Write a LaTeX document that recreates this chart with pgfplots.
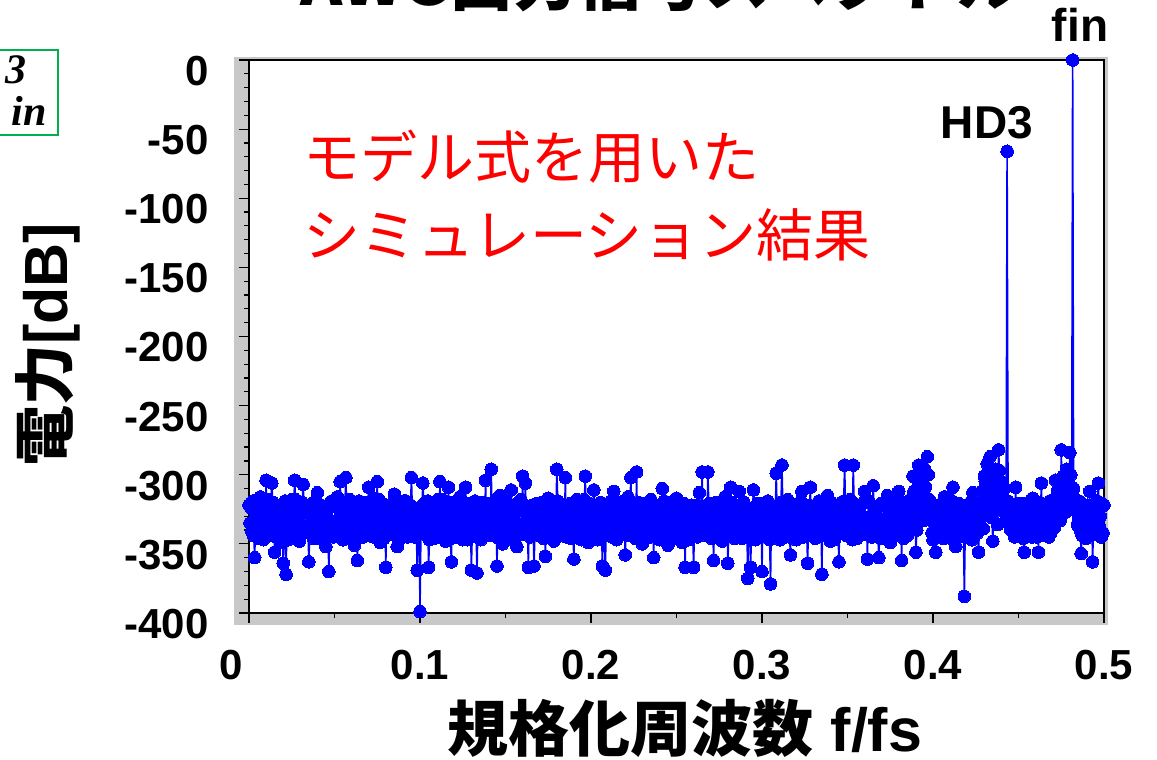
\documentclass[border=0pt]{standalone}
\usepackage{fontspec}
\setmainfont{Liberation Sans}
\newfontfamily\cjk{Noto Sans CJK JP}
\newfontfamily\serifbi{Liberation Serif}
\usepackage{pgfplots}
\pgfplotsset{compat=1.18}
\usepackage{pgfplotstable}
\definecolor{framegray}{RGB}{200,200,200}
\definecolor{boxgreen}{RGB}{0,176,80}

% FFT bins, f/fs = k/1800, power in dB
\pgfplotstableread[row sep=\\]{
y\\
-322\\-335\\-324\\ -341\\-319\\-344\\ -360\\-331\\-340\\ -329\\-346\\-321\\ -316\\-338\\-327\\
-347\\-323\\-342\\ -304\\-330\\-318\\ -335\\-344\\-326\\ -306\\-320\\-337\\ -356\\-333\\-345\\
-327\\-341\\-322\\ -349\\-328\\-336\\ -364\\-345\\-319\\ -372\\-332\\-347\\ -331\\-321\\-339\\
-318\\-343\\-326\\ -304\\-318\\-334\\ -343\\-329\\-348\\ -325\\-337\\-320\\ -307\\-325\\-342\\
-340\\-327\\-338\\ -363\\-342\\-324\\ -321\\-333\\-346\\ -336\\-319\\-330\\ -313\\-339\\-327\\
-346\\-322\\-344\\ -328\\-347\\-331\\ -352\\-326\\-335\\ -370\\-340\\-321\\ -319\\-336\\-345\\
-334\\-321\\-343\\ -316\\-338\\-325\\ -305\\-329\\-341\\ -347\\-345\\-320\\ -302\\-332\\-337\\
-324\\-318\\-346\\ -339\\-341\\-328\\ -351\\-324\\-335\\ -362\\-346\\-319\\ -327\\-330\\-339\\
-345\\-326\\-340\\ -320\\-343\\-322\\ -309\\-320\\-333\\ -338\\-337\\-345\\ -317\\-324\\-329\\
-305\\-340\\-318\\ -349\\-331\\-344\\ -331\\-346\\-325\\ -367\\-322\\-338\\ -323\\-335\\-342\\
-341\\-329\\-320\\ -314\\-344\\-336\\ -352\\-323\\-347\\ -328\\-338\\-326\\ -345\\-319\\-341\\
-319\\-333\\-345\\ -336\\-342\\-322\\ -302\\-327\\-339\\ -335\\-345\\-331\\ -369\\-336\\-324\\
-399\\-340\\-325\\ -306\\-321\\-343\\ -338\\-334\\-319\\ -367\\-347\\-330\\ -322\\-325\\-338\\
-346\\-339\\-322\\ -329\\-318\\-344\\ -305\\-331\\-336\\ -318\\-344\\-327\\ -348\\-323\\-341\\
-309\\-337\\-346\\ -363\\-320\\-332\\ -327\\-345\\-324\\ -340\\-328\\-340\\ -316\\-341\\-319\\
-347\\-324\\-335\\ -309\\-339\\-347\\ -331\\-330\\-321\\ -369\\-343\\-333\\ -324\\-319\\-338\\
-371\\-334\\-326\\ -336\\-347\\-320\\ -320\\-325\\-341\\ -304\\-338\\-329\\ -342\\-321\\-344\\
-296\\-342\\-331\\ -329\\-329\\-318\\ -366\\-336\\-346\\ -315\\-323\\-339\\ -350\\-345\\-327\\
-333\\-320\\-340\\ -345\\-339\\-328\\ -311\\-331\\-347\\ -326\\-344\\-322\\ -352\\-326\\-336\\
-319\\-318\\-343\\ -301\\-337\\-325\\ -306\\-341\\-330\\ -367\\-328\\-345\\ -338\\-322\\-334\\
-366\\-343\\-331\\ -321\\-327\\-339\\ -344\\-336\\-320\\ -330\\-346\\-328\\ -359\\-322\\-341\\
-317\\-338\\-345\\ -337\\-329\\-319\\ -348\\-340\\-334\\ -296\\-319\\-343\\ -325\\-332\\-326\\
-341\\-324\\-337\\ -302\\-345\\-329\\ -328\\-331\\-321\\ -346\\-339\\-344\\ -361\\-320\\-333\\
-318\\-342\\-326\\ -334\\-328\\-347\\ -322\\-335\\-318\\ -301\\-344\\-330\\ -349\\-321\\-339\\
-330\\-338\\-323\\ -311\\-326\\-346\\ -343\\-347\\-331\\ -325\\-320\\-337\\ -366\\-334\\-342\\
-369\\-341\\-327\\ -336\\-323\\-340\\ -319\\-345\\-329\\ -312\\-330\\-319\\ -347\\-337\\-344\\
-323\\-342\\-328\\ -340\\-319\\-335\\ -358\\-336\\-344\\ -316\\-327\\-321\\ -302\\-340\\-332\\
-345\\-325\\-346\\ -298\\-343\\-320\\ -331\\-333\\-339\\ -350\\-321\\-347\\ -326\\-338\\-326\\
-339\\-329\\-345\\ -318\\-344\\-324\\ -360\\-322\\-338\\ -333\\-339\\-330\\ -347\\-327\\-343\\
-310\\-345\\-319\\ -324\\-334\\-341\\ -351\\-320\\-328\\ -321\\-341\\-335\\ -342\\-326\\-346\\
-317\\-343\\-330\\ -336\\-325\\-340\\ -349\\-338\\-321\\ -367\\-331\\-346\\ -328\\-347\\-326\\
-344\\-322\\-337\\ -367\\-336\\-344\\ -322\\-345\\-329\\ -313\\-328\\-339\\ -298\\-341\\-323\\
-326\\-335\\-344\\ -298\\-321\\-331\\ -341\\-346\\-327\\ -362\\-330\\-340\\ -320\\-339\\-322\\
-337\\-324\\-347\\ -348\\-342\\-333\\ -316\\-327\\-319\\ -364\\-344\\-336\\ -309\\-320\\-341\\
-335\\-346\\-328\\ -324\\-331\\-340\\ -312\\-323\\-345\\ -346\\-338\\-320\\ -329\\-343\\-334\\
-375\\-327\\-339\\ -367\\-340\\-325\\ -311\\-333\\-347\\ -340\\-321\\-337\\ -321\\-345\\-329\\
-370\\-328\\-341\\ -333\\-344\\-323\\ -319\\-336\\-347\\ -379\\-322\\-332\\ -342\\-339\\-326\\
-299\\-331\\-343\\ -327\\-347\\-320\\ -293\\-325\\-338\\ -345\\-340\\-330\\ -318\\-334\\-345\\
-358\\-321\\-336\\ -331\\-343\\-327\\ -347\\-329\\-345\\ -322\\-338\\-319\\ -312\\-345\\-332\\
-338\\-324\\-340\\ -364\\-336\\-322\\ -309\\-342\\-329\\ -343\\-327\\-346\\ -325\\-339\\-333\\
-319\\-344\\-330\\ -372\\-326\\-339\\ -336\\-341\\-321\\ -315\\-333\\-346\\ -348\\-320\\-337\\
-327\\-347\\-328\\ -341\\-331\\-342\\ -363\\-323\\-335\\ -320\\-338\\-319\\ -293\\-327\\-344\\
-330\\-340\\-322\\ -318\\-335\\-347\\ -293\\-321\\-329\\ -345\\-346\\-334\\ -325\\-328\\-341\\
-339\\-337\\-320\\ -312\\-343\\-331\\ -361\\-319\\-338\\ -333\\-332\\-345\\ -308\\-324\\-336\\
-343\\-330\\-345\\ -360\\-338\\-321\\ -322\\-346\\-333\\ -337\\-322\\-340\\ -315\\-339\\-327\\
-349\\-325\\-343\\ -328\\-344\\-320\\ -341\\-329\\-336\\ -312\\-341\\-331\\ -362\\-320\\-346\\
-326\\-337\\-323\\ -344\\-329\\-341\\ -318\\-320\\-334\\ -301\\-312\\-327\\ -356\\-340\\-318\\
-293\\-306\\-325\\ -303\\-315\\-333\\ -296\\-309\\-321\\ -287\\-300\\-318\\ -331\\-328\\-342\\
-347\\-335\\-322\\ -356\\-344\\-330\\ -323\\-327\\-341\\ -338\\-320\\-346\\ -316\\-338\\-328\\
-345\\-331\\-343\\ -329\\-346\\-319\\ -309\\-324\\-337\\ -352\\-339\\-332\\ -321\\-345\\-326\\
-336\\-322\\-340\\ -388\\-335\\-329\\ -327\\-343\\-321\\ -344\\-330\\-347\\ -313\\-338\\-324\\
-333\\-321\\-342\\ -356\\-334\\-327\\ -320\\-312\\-339\\ -301\\-305\\-326\\ -292\\-298\\-318\\
-287\\-310\\-331\\ -348\\-322\\-302\\ -296\\-315\\-336\\ -282\\-297\\-320\\ -305\\-326\\-311\\
-318\\-334\\-322\\ -66\\-319\\-331\\ -326\\-340\\-324\\ -339\\-328\\-345\\ -309\\-332\\-321\\
-335\\-343\\-328\\ -321\\-336\\-346\\ -356\\-322\\-339\\ -330\\-341\\-320\\ -343\\-327\\-345\\
-317\\-339\\-331\\ -338\\-345\\-323\\ -356\\-320\\-337\\ -306\\-333\\-344\\ -325\\-326\\-340\\
-341\\-330\\-345\\ -319\\-342\\-324\\ -335\\-318\\-338\\ -304\\-329\\-312\\ -326\\-309\\-333\\
-282\\-322\\-301\\ -315\\-311\\-327\\ -296\\-305\\-320\\ -284\\-300\\-313\\ 0\\-310\\-322\\
-318\\-326\\-336\\ -331\\-319\\-340\\ -357\\-344\\-328\\ -340\\-331\\-346\\ -324\\-322\\-337\\
-312\\-340\\-325\\ -363\\-335\\-343\\ -335\\-327\\-319\\ -306\\-338\\-330\\ -345\\-321\\-342\\
-322\\
}\noise

\begin{document}
\begin{tikzpicture}
\useasboundingbox (0,0) rectangle (1157pt,760pt);
% gray frame behind the plot area
\fill[framegray] (234pt,135pt) rectangle (1108pt,703pt);
\begin{axis}[
  at={(249pt,147pt)}, anchor=south west,
  scale only axis, width=855pt, height=553pt,
  xmin=0, xmax=0.5, ymin=-400, ymax=0,
  axis background/.style={fill=white},
  axis line style={black, line width=1.6pt},
  xtick={0.1,0.2,0.3,0.4,0.5},
  xticklabels={0.1,0.2,0.3,0.4,0.5},
  extra x ticks={0}, extra x tick labels={0},
  extra x tick style={xticklabel style={xshift=-18pt}},
  minor xtick={0.05,0.15,0.25,0.35,0.45},
  ytick={-400,-350,-300,-250,-200,-150,-100,-50,0},
  yticklabels={-400,-350,-300,-250,-200,-150,-100,-50,0},
  minor y tick num=4,
  xtick pos=bottom, ytick pos=left,
  tick align=outside,
  major tick length=10pt, minor tick length=5pt,
  tick style={black, line width=1.2pt},
  ticklabel style={font=\fontsize{42}{44}\selectfont\bfseries},
  xticklabel style={yshift=-24pt},
  yticklabel style={xshift=-27pt, yshift=-11pt},
  clip=true,
]
\addplot[blue, line width=1.6pt, mark=*, mark size=6.3pt,
  mark options={fill=blue, draw=blue, line width=0pt}]
  table[x expr=\coordindex/1800, y=y] {\noise};
\end{axis}
% title (cropped at top)
\node[anchor=base] at (661pt,754pt) {\fontsize{64}{64}\selectfont\bfseries\cjk AWG出力信号スペクトル};
% axis labels
\node[rotate=90] at (48pt,415pt) {\fontsize{61}{61}\selectfont\bfseries{\cjk 電力}[dB]};
\node at (685pt,32pt) {\fontsize{61}{62}\selectfont\bfseries{\cjk 規格化周波数} f/fs};
% annotation
\node[anchor=north west, align=left, text=red, inner sep=0pt,
  font=\cjk\fontsize{57}{78}\selectfont] at (303pt,630pt)
  {モデル式を用いた\\シミュレーション結果};
\node at (987pt,637pt) {\fontsize{46}{48}\selectfont\bfseries HD3};
\node at (1080pt,735pt) {\fontsize{46}{48}\selectfont\bfseries fin};
% cropped green formula box
\draw[boxgreen, line width=1.5pt] (-10pt,625pt) rectangle (58pt,710pt);
\node[anchor=base east, inner sep=0pt] at (27pt,676pt) {\fontsize{42}{44}\selectfont\serifbi\bfseries\itshape 3};
\node[anchor=base east, inner sep=0pt] at (47pt,634pt) {\fontsize{42}{44}\selectfont\serifbi\bfseries\itshape in};
\end{tikzpicture}
\end{document}
